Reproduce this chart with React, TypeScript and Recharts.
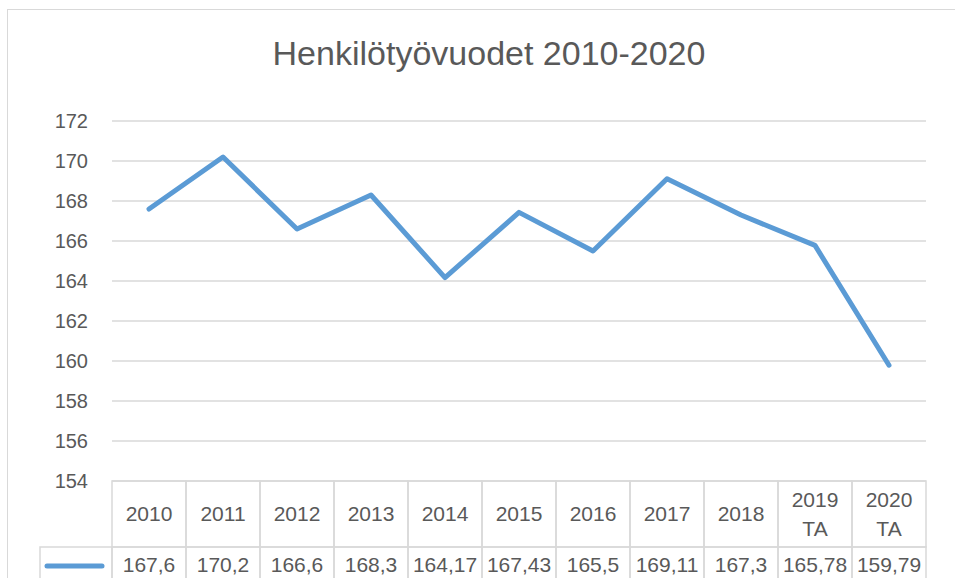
import React from 'react';
import { LineChart, Line, XAxis, YAxis, CartesianGrid } from 'recharts';

const categories = ['2010', '2011', '2012', '2013', '2014', '2015', '2016', '2017', '2018', '2019 TA', '2020 TA'];
const values = [167.6, 170.2, 166.6, 168.3, 164.17, 167.43, 165.5, 169.11, 167.3, 165.78, 159.79];
const yTicks = [154, 156, 158, 160, 162, 164, 166, 168, 170, 172];
const title = 'Henkilötyövuodet 2010-2020';

const data = categories.map((c, i) => ({ category: c, value: values[i] }));

const W = 955;
const H = 578;
const PLOT_LEFT = 112;
const PLOT_RIGHT = 926;
const COL_W = (PLOT_RIGHT - PLOT_LEFT) / categories.length;
const HEADER_H = 66;
const VALUE_H = 60;
const LEGEND_W = 72;
const TEXT = '#595959';
const GRID = '#d9d9d9';
const LINE = '#5b9bd5';
const FONT = '"Liberation Sans", Arial, sans-serif';

const TableTick = (props: any) => {
  const { x, y, payload } = props;
  const index = props.index ?? payload.index ?? 0;
  const left = x - COL_W / 2;
  const lines = String(payload.value).split(' ');
  const cy = y + HEADER_H / 2;
  const valueLabel = String(values[index]).replace('.', ',');
  const valueY = y + HEADER_H + 18;
  return (
    <g>
      <rect x={left} y={y} width={COL_W} height={HEADER_H} fill="none" stroke={GRID} strokeWidth={1.5} />
      <rect x={left} y={y + HEADER_H} width={COL_W} height={VALUE_H} fill="none" stroke={GRID} strokeWidth={1.5} />
      {lines.map((l, i) => (
        <text
          key={i}
          x={x}
          y={cy + (i - (lines.length - 1) / 2) * 29}
          dy="0.355em"
          textAnchor="middle"
          fill={TEXT}
          fontSize={21}
          fontFamily={FONT}
        >
          {l}
        </text>
      ))}
      <text x={x} y={valueY} dy="0.355em" textAnchor="middle" fill={TEXT} fontSize={21} fontFamily={FONT}>
        {valueLabel}
      </text>
      {index === 0 && (
        <g>
          <rect x={left - LEGEND_W} y={y + HEADER_H} width={LEGEND_W} height={VALUE_H} fill="none" stroke={GRID} strokeWidth={1.5} />
          <line
            x1={left - LEGEND_W + 7}
            x2={left - 10}
            y1={valueY + 1}
            y2={valueY + 1}
            stroke={LINE}
            strokeWidth={5}
            strokeLinecap="round"
          />
        </g>
      )}
    </g>
  );
};

export default function App() {
  return (
    <div style={{ position: 'absolute', left: 0, top: 0, width: W, height: H, overflow: 'hidden', background: '#fff' }}>
      <div
        style={{
          position: 'absolute',
          left: 7,
          top: 9,
          width: 1200,
          height: 1200,
          borderLeft: `1.5px solid ${GRID}`,
          borderTop: `1.5px solid ${GRID}`,
        }}
      />
      <LineChart width={W} height={H} data={data} margin={{ top: 121, right: W - PLOT_RIGHT, bottom: 0, left: 0 }}>
        <CartesianGrid horizontal vertical={false} stroke={GRID} strokeWidth={1.5} />
        <XAxis
          dataKey="category"
          type="category"
          height={H - 481}
          padding={{ left: COL_W / 2, right: COL_W / 2 }}
          axisLine={false}
          tickLine={false}
          tickSize={0}
          tickMargin={0}
          interval={0}
          tick={<TableTick />}
        />
        <YAxis
          width={PLOT_LEFT}
          domain={[154, 172]}
          ticks={yTicks}
          interval={0}
          axisLine={false}
          tickLine={false}
          tickSize={0}
          tickMargin={24}
          tick={{ fill: TEXT, fontSize: 20, fontFamily: FONT }}
        />
        <Line
          type="linear"
          dataKey="value"
          stroke={LINE}
          strokeWidth={5}
          strokeLinecap="round"
          strokeLinejoin="round"
          dot={false}
          activeDot={false}
          isAnimationActive={false}
        />
      </LineChart>
      <svg width={W} height={H} style={{ position: 'absolute', left: 0, top: 0, pointerEvents: 'none' }}>
        <text x={489} y={65} textAnchor="middle" fill={TEXT} fontSize={34} fontFamily={FONT}>
          {title}
        </text>
      </svg>
    </div>
  );
}
